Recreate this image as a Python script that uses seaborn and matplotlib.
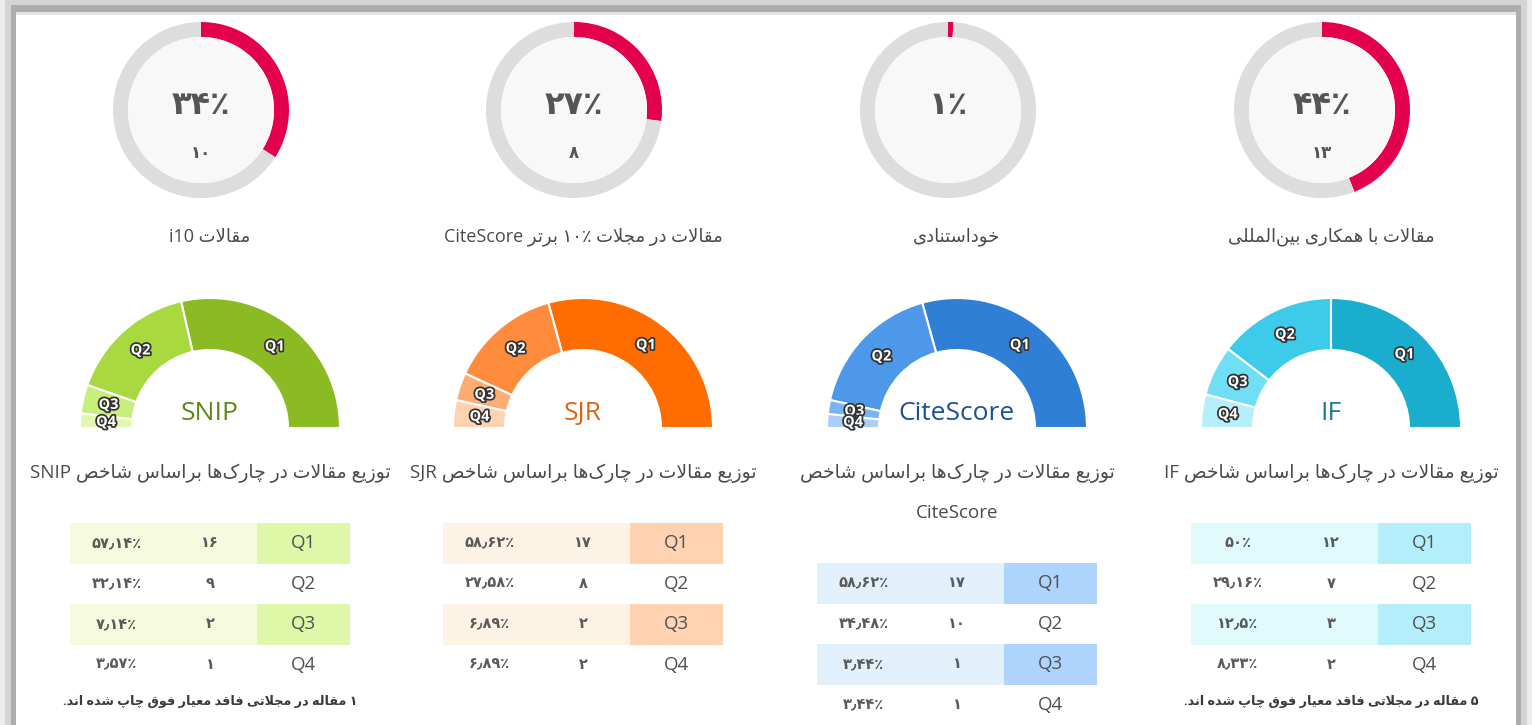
import re
import numpy as np
import matplotlib
matplotlib.use("Agg")
import matplotlib.pyplot as plt
import matplotlib.patheffects as pe
from matplotlib.colors import ListedColormap
from matplotlib.patches import Rectangle, Circle
import seaborn as sns

# ---- data ----
ring_labels = ["مقالات i10", "مقالات در مجلات ۱۰٪ برتر CiteScore",
               "خوداستنادی", "مقالات با همکاری بین‌المللی"]
ring_pct = [34, 27, 1, 44]
ring_counts = [10, 8, None, 13]

gauge_names = ["SNIP", "SJR", "CiteScore", "IF"]
quartiles = ["Q1", "Q2", "Q3", "Q4"]
snip_counts = [16, 9, 2, 1]
sjr_counts = [17, 8, 2, 2]
citescore_counts = [17, 10, 1, 1]
if_counts = [12, 7, 3, 2]
snip_pct = [57.14, 32.14, 7.14, 3.57]
sjr_pct = [58.62, 27.58, 6.89, 6.89]
citescore_pct = [58.62, 34.48, 3.44, 3.44]
if_pct = [50, 29.16, 12.5, 8.33]

gauge_titles = ["توزیع مقالات در چارک‌ها براساس شاخص SNIP",
                "توزیع مقالات در چارک‌ها براساس شاخص SJR",
                "توزیع مقالات در چارک‌ها براساس شاخص\nCiteScore",
                "توزیع مقالات در چارک‌ها براساس شاخص IF"]
footnotes = ["۱ مقاله در مجلاتی فاقد معیار فوق چاپ شده اند.", None, None,
             "۵ مقاله در مجلاتی فاقد معیار فوق چاپ شده اند."]

# ---- colours ----
ring_red = "#e3004f"
ring_gray = "#dddddd"
gauge_colors = [["#8bbb23", "#a8da3f", "#c8ef7c", "#e0f8b0"],
                ["#ff6d00", "#ff8c3c", "#ffac74", "#ffd2b2"],
                ["#2f7fd6", "#4d98e8", "#7ab4f2", "#a9cff8"],
                ["#1badce", "#3ccbea", "#70def4", "#b5effb"]]
name_colors = ["#5e8816", "#dd6412", "#1d4f98", "#1b7a95"]
row_tint = ["#f6fbe0", "#fdf3e4", "#e1f0fa", "#e1fafc"]
q_cell = ["#def7a8", "#ffd2b2", "#aed3fc", "#b4eefa"]

# ---- minimal Persian shaping + bidi for matplotlib ----
FORMS = {
    "ا": ("\uFE8D", "\uFE8E", None, None),
    "د": ("\uFEA9", "\uFEAA", None, None),
    "ر": ("\uFEAD", "\uFEAE", None, None),
    "ز": ("\uFEAF", "\uFEB0", None, None),
    "و": ("\uFEED", "\uFEEE", None, None),
    "لا": ("\uFEFB", "\uFEFC", None, None),
    "ب": ("\uFE8F", "\uFE90", "\uFE91", "\uFE92"),
    "پ": ("\uFB56", "\uFB57", "\uFB58", "\uFB59"),
    "ت": ("\uFE95", "\uFE96", "\uFE97", "\uFE98"),
    "ج": ("\uFE9D", "\uFE9E", "\uFE9F", "\uFEA0"),
    "چ": ("\uFB7A", "\uFB7B", "\uFB7C", "\uFB7D"),
    "خ": ("\uFEA5", "\uFEA6", "\uFEA7", "\uFEA8"),
    "س": ("\uFEB1", "\uFEB2", "\uFEB3", "\uFEB4"),
    "ش": ("\uFEB5", "\uFEB6", "\uFEB7", "\uFEB8"),
    "ص": ("\uFEB9", "\uFEBA", "\uFEBB", "\uFEBC"),
    "ع": ("\uFEC9", "\uFECA", "\uFECB", "\uFECC"),
    "ف": ("\uFED1", "\uFED2", "\uFED3", "\uFED4"),
    "ق": ("\uFED5", "\uFED6", "\uFED7", "\uFED8"),
    "ک": ("\uFB8E", "\uFB8F", "\uFB90", "\uFB91"),
    "ل": ("\uFEDD", "\uFEDE", "\uFEDF", "\uFEE0"),
    "م": ("\uFEE1", "\uFEE2", "\uFEE3", "\uFEE4"),
    "ن": ("\uFEE5", "\uFEE6", "\uFEE7", "\uFEE8"),
    "ه": ("\uFEE9", "\uFEEA", "\uFEEB", "\uFEEC"),
    "ی": ("\uFBFC", "\uFBFD", "\uFBFE", "\uFBFF"),
}
LTR = r"[A-Za-z0-9\u06F0-\u06F9\u066A\u066B]+"


def join_type(t):
    if t not in FORMS:
        return None
    return "D" if FORMS[t][2] else "R"


def shape(s):
    toks, i = [], 0
    while i < len(s):
        if s[i] == "ل" and i + 1 < len(s) and s[i + 1] == "ا":
            toks.append("لا")
            i += 2
        else:
            toks.append(s[i])
            i += 1
    out = []
    for k, t in enumerate(toks):
        if t == "\u200c":
            continue
        if t not in FORMS:
            out.append(t)
            continue
        prev = toks[k - 1] if k > 0 else None
        nxt = toks[k + 1] if k + 1 < len(toks) else None
        cp = join_type(prev) == "D"
        cn = join_type(t) == "D" and join_type(nxt) is not None
        iso, fin, ini, med = FORMS[t]
        out.append(med if cp and cn else fin if cp else ini if cn else iso)
    return "".join(out)


def rtl(s):
    runs = re.findall(LTR + "|[^A-Za-z0-9\u06F0-\u06F9\u066A\u066B]+", shape(s))
    return "".join(r if re.fullmatch(LTR, r) else r[::-1] for r in reversed(runs))


def fa(v):
    s = f"{v:g}"
    return s.translate(str.maketrans("0123456789.", "۰۱۲۳۴۵۶۷۸۹٫"))


# ---- figure ----
sns.set_theme(style="white")
plt.rcParams["font.family"] = ["Open Sans", "DejaVu Sans"]

W, H = 1532, 725
fig = plt.figure(figsize=(W / 100, H / 100), dpi=100)
fig.patch.set_facecolor("#ececec")


def px_axes(x, y, w, h):
    return fig.add_axes([x / W, 1 - (y + h) / H, w / W, h / H])


bg = px_axes(0, 0, W, H)
bg.set_xlim(0, W)
bg.set_ylim(H, 0)
bg.axis("off")
bg.add_patch(Rectangle((5, 0), W - 10, H, color="#d4d4d4", lw=0))
bg.add_patch(Rectangle((11, 5), W - 22, H, color="#adadad", lw=0))
bg.add_patch(Rectangle((16, 12), 1500, H, color="white", lw=0))
bg.add_patch(Rectangle((16, 12), 1500, 2.5, color="#e4e4e4", lw=0))

col_x = [210, 583, 957, 1331]
text_c = "#4a4a4a"

# top progress rings
for i in range(4):
    cx, cy, r = col_x[i] - 9, 110, 88
    ax = px_axes(cx - r, cy - r, 2 * r, 2 * r)
    ax.pie([ring_pct[i], 100 - ring_pct[i]], colors=[ring_red, ring_gray],
           startangle=90, counterclock=False, radius=1,
           wedgeprops=dict(width=0.17, linewidth=0))
    ax.add_patch(Circle((0, 0), 0.83, color="#f8f8f8", lw=0))
    ax.set_xlim(-1, 1)
    ax.set_ylim(-1, 1)
    ax.set_aspect("equal")
    ax.axis("off")
    ax.text(0, 0.05, fa(ring_pct[i]) + "٪", ha="center", va="center",
            fontsize=23, fontweight="bold", color="#555555")
    if ring_counts[i] is not None:
        ax.text(0, -0.49, fa(ring_counts[i]), ha="center", va="center",
                fontsize=12, fontweight="bold", color="#555555")
    bg.text(col_x[i], 237, rtl(ring_labels[i]), ha="center", va="center",
            fontsize=13, color=text_c)

# semicircle gauges + tables
counts_all = [snip_counts, sjr_counts, citescore_counts, if_counts]
pct_all = [snip_pct, sjr_pct, citescore_pct, if_pct]
table_top = [523, 523, 563, 523]
for i in range(4):
    gx, gy, r = col_x[i], 428, 130
    ax = px_axes(gx - r, gy - r, 2 * r, 2 * r)
    vals = counts_all[i] + [sum(counts_all[i])]
    wedges, _ = ax.pie(vals, colors=gauge_colors[i] + ["white"], startangle=0,
                       counterclock=True, radius=1,
                       wedgeprops=dict(width=0.4, edgecolor="white", linewidth=1.5))
    wedges[-1].set_visible(False)
    for w, q in zip(wedges[:-1], quartiles):
        mid = np.deg2rad((w.theta1 + w.theta2) / 2)
        ax.text(0.8 * np.cos(mid), 0.8 * np.sin(mid), q, ha="center", va="center",
                fontsize=10.5, fontweight="bold", color="white",
                path_effects=[pe.withStroke(linewidth=2.5, foreground="#333333")])
    ax.set_xlim(-1, 1)
    ax.set_ylim(-1, 1)
    ax.set_aspect("equal")
    ax.axis("off")
    bg.text(gx, 413, gauge_names[i], ha="center", va="center", fontsize=19,
            color=name_colors[i])

    for k, line in enumerate(gauge_titles[i].split("\n")):
        bg.text(gx, 473 + 40 * k, rtl(line), ha="center", va="center",
                fontsize=13.5, color=text_c)

    tab = px_axes(gx - 140, table_top[i], 280, 162)
    codes = np.array([[1, 1, 2], [0, 0, 0], [1, 1, 2], [0, 0, 0]])
    annot = np.array([[fa(p) + "٪", fa(c), q]
                      for p, c, q in zip(pct_all[i], counts_all[i], quartiles)])
    sns.heatmap(codes, cmap=ListedColormap(["white", row_tint[i], q_cell[i]]),
                vmin=0, vmax=2, cbar=False, annot=annot, fmt="",
                annot_kws=dict(color="#5a5a5a", fontsize=10.5, fontweight="bold"),
                xticklabels=False, yticklabels=False, linewidths=0, ax=tab)
    for t in tab.texts:
        if t.get_position()[0] > 2:
            t.set_fontsize(13.5)
            t.set_fontweight("normal")
            t.set_color("#505050")

    if footnotes[i]:
        bg.text(gx, 702, rtl(footnotes[i]), ha="center", va="center",
                fontsize=9.2, fontweight="bold", color="#3a3a3a")

fig.savefig("out.png", dpi=100)
